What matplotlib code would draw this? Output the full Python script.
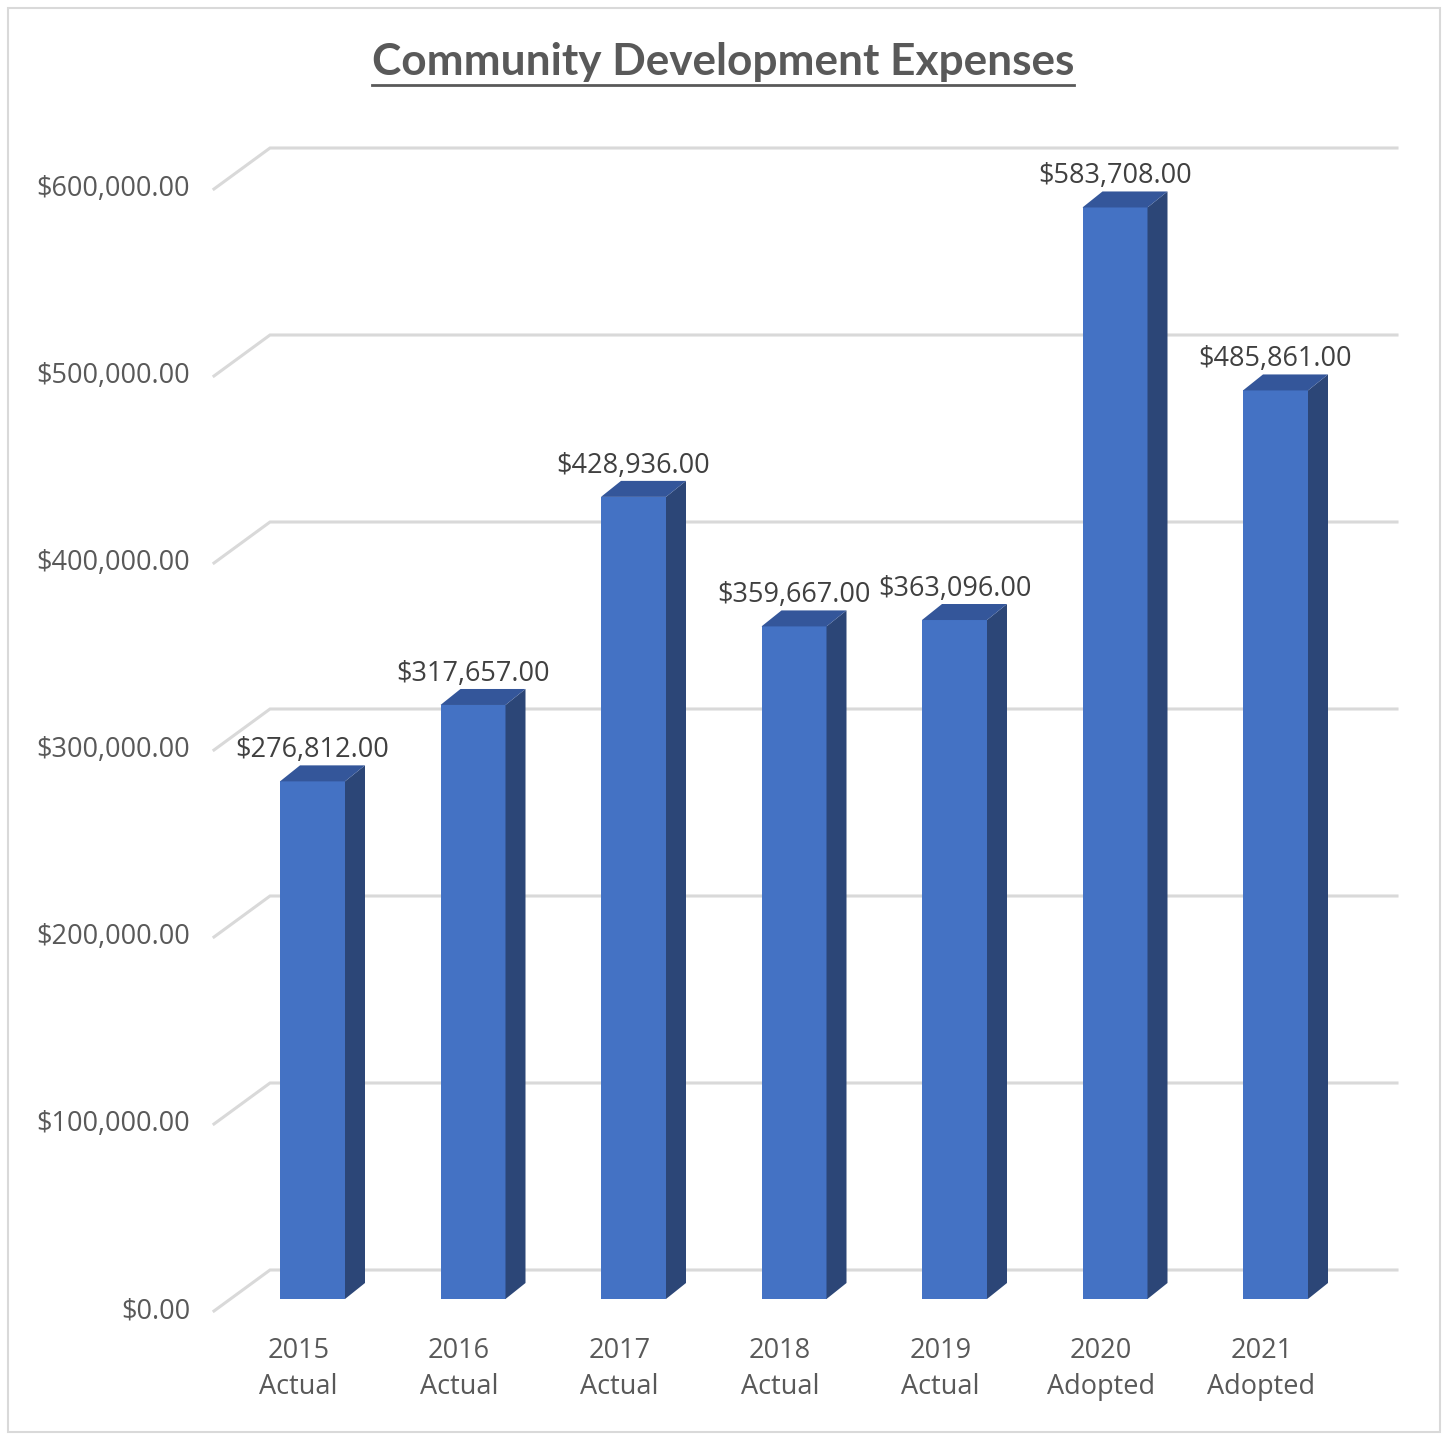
import matplotlib
matplotlib.use("Agg")
import matplotlib.pyplot as plt
from matplotlib.patches import Polygon, Rectangle

# ---- data ----
years = ["2015", "2016", "2017", "2018", "2019", "2020", "2021"]
kinds = ["Actual", "Actual", "Actual", "Actual", "Actual", "Adopted", "Adopted"]
values = [276812, 317657, 428936, 359667, 363096, 583708, 485861]
yticks = [0, 100000, 200000, 300000, 400000, 500000, 600000]
title = "Community Development Expenses"

W, H = 1445, 1436
fig = plt.figure(figsize=(W / 100, H / 100), dpi=100)
fig.patch.set_facecolor("white")

# pixel mapping helpers (style/layout constants)
PX_PER_CAT = 160.5
X0_PX = 312.5
PX_PER_UNIT = 187.0 / 100000
Y0_PX = 1299.0

ax_l, ax_r, ax_t, ax_b = 200, 1400, 130, 1330
ax = fig.add_axes([ax_l / W, 1 - ax_b / H, (ax_r - ax_l) / W, (ax_b - ax_t) / H])
ax.set_xlim((ax_l - X0_PX) / PX_PER_CAT, (ax_r - X0_PX) / PX_PER_CAT)
ax.set_ylim((Y0_PX - ax_b) / PX_PER_UNIT, (Y0_PX - ax_t) / PX_PER_UNIT)
ax.axis("off")

def dxp(px):
    return px / PX_PER_CAT

def dyp(px):
    return px / PX_PER_UNIT

# chart border
fig.patches.append(Rectangle((8 / W, 1 - 1432 / H), 1432 / W, 1424 / H,
                             transform=fig.transFigure, fill=False,
                             edgecolor="#d9d9d9", linewidth=1.5))

# gridlines (front edge diagonal + back wall line)
front_x = (214 - X0_PX) / PX_PER_CAT
back_x = (270 - X0_PX) / PX_PER_CAT
right_x = (1397 - X0_PX) / PX_PER_CAT
front_off = dyp(-12)
back_off = dyp(29)
for v in yticks:
    ax.plot([front_x, back_x, right_x], [v + front_off, v + back_off, v + back_off],
            color="#d9d9d9", linewidth=2.2, clip_on=False, zorder=1,
            solid_joinstyle="miter")
    ax.text(front_x - dxp(24), v + front_off, f"${v:,.2f}", ha="right", va="center",
            fontsize=19.5, color="#595959", family="Open Sans")

# 3D bars
bw = 65 / PX_PER_CAT
ddx = dxp(20)
ddy = dyp(16)
front_c = "#4472c4"
side_c = "#2c4677"
top_c = "#34569a"
for i, v in enumerate(values):
    l = i - bw / 2
    r = i + bw / 2
    ax.bar(i, v, width=bw, bottom=0, color=front_c, zorder=3, linewidth=0)
    ax.add_patch(Polygon([(r, 0), (r + ddx, ddy), (r + ddx, v + ddy), (r, v)],
                         closed=True, facecolor=side_c, edgecolor="none", zorder=3))
    ax.add_patch(Polygon([(l, v), (r, v), (r + ddx, v + ddy), (l + ddx, v + ddy)],
                         closed=True, facecolor=top_c, edgecolor="none", zorder=3))
    ax.text(i, v + ddy + dyp(1), f"${v:,.2f}", ha="center", va="bottom",
            fontsize=19.5, color="#404040", family="Open Sans", zorder=4)
    ax.text(i - dxp(14), dyp(-70), f"{years[i]}\n{kinds[i]}", ha="center", va="center",
            fontsize=19.5, color="#595959", family="Open Sans", linespacing=1.4)

# title
t = fig.text(723 / W, 1 - 62 / H, title, ha="center", va="center",
             fontsize=31.8, fontweight="bold", color="#595959", family="Lato")
fig.canvas.draw()
bb = t.get_window_extent()
fig.add_artist(plt.Line2D([bb.x0 / W, bb.x1 / W], [1 - 85 / H, 1 - 85 / H],
                          transform=fig.transFigure, color="#595959", linewidth=2))

fig.savefig("out.png", dpi=100, facecolor="white")
